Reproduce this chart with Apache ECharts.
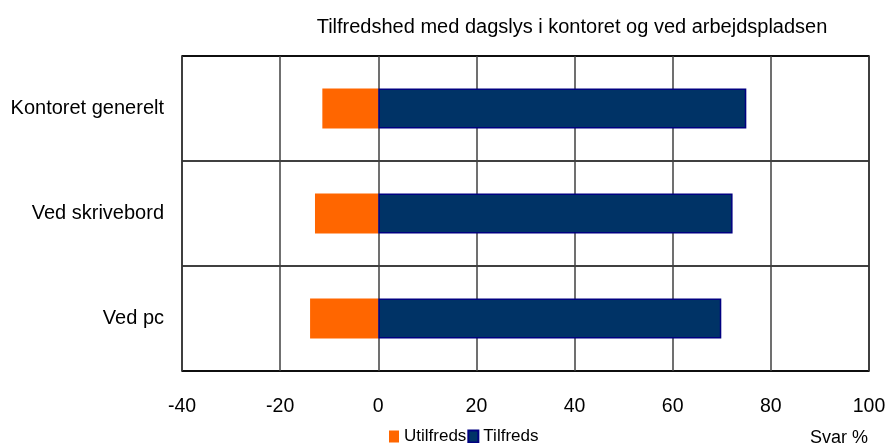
<!DOCTYPE html>
<html>
<head>
<meta charset="utf-8">
<script src="https://cdn.jsdelivr.net/npm/echarts@6/dist/echarts.min.js"></script>
<style>html,body{margin:0;padding:0;background:#fff}#c{width:889px;height:443px}</style>
</head>
<body>
<div id="c"></div>
<script>
var categories = ['Kontoret generelt', 'Ved skrivebord', 'Ved pc'];
var utilfreds = [-11.4, -12.9, -13.9];
var tilfreds = [75.0, 72.2, 69.9];
var xTicks = [-40, -20, 0, 20, 40, 60, 80, 100];
var chartTitle = 'Tilfredshed med dagslys i kontoret og ved arbejdspladsen';
var axisName = 'Svar %';
var FONT = 'Liberation Sans, Arial, sans-serif';

var chart = echarts.init(document.getElementById('c'), null, {renderer: 'canvas'});
chart.setOption({
  backgroundColor: '#ffffff',
  animation: false,
  title: [
    {text: chartTitle, left: 567, textAlign: 'center', top: 12,
     textStyle: {fontFamily: FONT, fontSize: 20, fontWeight: 'normal', color: '#000'}},
    {text: axisName, left: 805, top: 424,
     textStyle: {fontFamily: FONT, fontSize: 18, fontWeight: 'normal', color: '#000'}}
  ],
  legend: {
    data: ['Utilfreds', 'Tilfreds'],
    left: 384, top: 423, itemWidth: 10, itemHeight: 12, itemGap: 1,
    textStyle: {fontFamily: FONT, fontSize: 17, color: '#000'},
    icon: 'rect'
  },
  grid: {left: 182, right: 20, top: 56, bottom: 72, show: true, borderColor: '#000', borderWidth: 1.5, containLabel: false},
  xAxis: {
    type: 'value', min: xTicks[0], max: xTicks[xTicks.length - 1], interval: 20,
    axisLine: {show: false}, axisTick: {show: false},
    splitLine: {show: true, lineStyle: {color: '#404040', width: 1.5}},
    axisLabel: {fontFamily: FONT, fontSize: 19.5, color: '#000', margin: 26}
  },
  yAxis: {
    type: 'category', data: categories, inverse: true,
    axisLine: {show: false}, axisTick: {show: false},
    splitLine: {show: true, lineStyle: {color: '#000', width: 1.5}},
    axisLabel: {fontFamily: FONT, fontSize: 20, color: '#000', margin: 18}
  },
  series: [
    {name: 'Utilfreds', type: 'bar', stack: 's', data: utilfreds, barWidth: 40,
     itemStyle: {color: '#FF6600'}},
    {name: 'Tilfreds', type: 'bar', stack: 's', data: tilfreds, barWidth: 40,
     itemStyle: {color: '#003366', borderColor: '#000080', borderWidth: 1.5}}
  ]
});
</script>
</body>
</html>
